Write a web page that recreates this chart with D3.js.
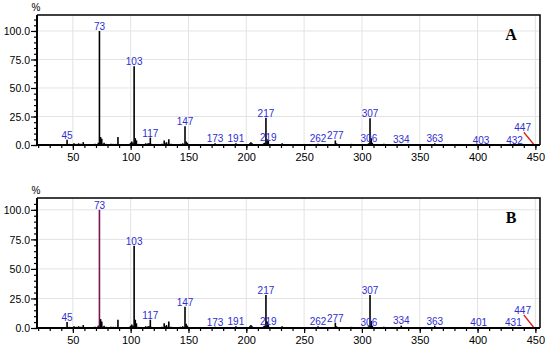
<!DOCTYPE html>
<html>
<head>
<meta charset="utf-8">
<script src="https://cdn.jsdelivr.net/npm/d3@7"></script>
<style>
  body { margin: 0; background: #fff; }
  svg { display: block; font-family: Arial, "Liberation Sans", sans-serif; }
</style>
</head>
<body>
<div id="chart"></div>
<script>
// m/z and relative intensity (%)
var massesA = [45, 47, 51, 53, 55, 57, 59, 61, 69, 72, 73, 74, 75, 76, 77, 79, 81, 83, 85, 87, 89, 91,
  99, 100, 101, 102, 103, 104, 105, 107, 113, 115, 116, 117, 118, 119, 127, 129, 130, 131, 132, 133, 135,
  143, 145, 147, 148, 149, 157, 163, 173, 175, 177, 189, 191, 199, 201, 203, 204, 205, 211, 215, 216,
  217, 218, 219, 220, 229, 231, 245, 262, 263, 275, 277, 278, 291, 305, 306, 307, 308, 309, 319, 321,
  334, 363, 403, 432, 447];
var intensA = [4.5, 1, 1.5, 1, 1.5, 1, 2.5, 0.5, 1, 2, 100, 7, 5.5, 1, 2, 1, 0.5, 1, 1, 1, 7, 0.5,
  1, 2, 3, 2, 69, 6, 4, 1, 1.5, 1.5, 1.5, 6.5, 1, 0.5, 1, 4, 1.5, 2.5, 1, 5, 1,
  1, 1.5, 16.5, 3, 2, 0.5, 0.5, 1.5, 0.5, 0.5, 0.5, 1.5, 0.5, 0.5, 1.5, 2.5, 1.5, 0.5, 1.5, 2,
  24, 5, 3.5, 1, 0.5, 1.5, 0.5, 1, 0.5, 0.5, 4, 1.5, 1, 1, 1.5, 23.5, 6, 2, 1, 0.5,
  1, 1.5, 0.5, 0.5, 0.5];

var massesB = [45, 47, 51, 53, 55, 57, 59, 61, 69, 72, 73, 74, 75, 76, 77, 79, 81, 83, 85, 87, 89, 91,
  99, 100, 101, 102, 103, 104, 105, 107, 113, 115, 116, 117, 118, 119, 127, 129, 130, 131, 132, 133, 135,
  143, 145, 147, 148, 149, 157, 163, 173, 175, 177, 189, 191, 199, 201, 203, 204, 205, 211, 215, 216,
  217, 218, 219, 220, 229, 231, 245, 262, 263, 275, 277, 278, 291, 305, 306, 307, 308, 309, 319, 321,
  334, 363, 401, 431, 447];
var intensB = [5, 1, 1.5, 1, 1.5, 1, 2.5, 0.5, 1, 2, 100, 7.5, 5.5, 1, 2, 1, 0.5, 1, 1, 1, 7, 0.5,
  1, 2, 3, 2, 69.5, 7, 4, 1, 1.5, 1.5, 1.5, 7, 1, 0.5, 1, 4, 1.5, 2.5, 1, 5.5, 1,
  1, 1.5, 18, 3.5, 2, 0.5, 0.5, 1, 0.5, 0.5, 0.5, 1.5, 0.5, 0.5, 1.5, 2.5, 1.5, 0.5, 1.5, 2,
  28, 5.5, 3, 1, 0.5, 1.5, 0.5, 1.5, 0.5, 0.5, 4.5, 1.5, 1, 1, 1.5, 28, 6, 2, 1, 0.5,
  2, 2, 0.5, 0.5, 0.5];

// peak labels: m/z text, position (m/z) and level (%)
var labelsA = ["45", "73", "103", "117", "147", "173", "191", "217", "219", "262", "277", "306", "307", "334", "363", "403", "432", "447"];
var labelXA = [45, 73, 103, 117, 147, 173, 191, 217, 219, 262, 277, 306, 307, 334, 363, 403, 432, 439];
var labelYA = [4.5, 100, 69, 6.5, 16.5, 1.5, 1.5, 24, 3, 1.5, 4.4, 1.5, 23.5, 1, 2, 0, 0, 11.7];

var labelsB = ["45", "73", "103", "117", "147", "173", "191", "217", "219", "262", "277", "306", "307", "334", "363", "401", "431", "447"];
var labelXB = [45, 73, 103, 117, 147, 173, 191, 217, 219, 262, 277, 306, 307, 334, 363, 401, 431, 439];
var labelYB = [5, 100, 69.5, 6.5, 18, 1, 1.5, 27.7, 2, 2, 4.6, 1, 27.7, 2.3, 2, 1, 1, 11.4];

// leader line from the 447 label down to its peak
var leaderA = [[440, 11.2], [449, 0]];
var leaderB = [[440, 11], [449, 0]];

var xTicks = [50, 100, 150, 200, 250, 300, 350, 400, 450];
var yTicks = [0, 25, 50, 75, 100];

var width = 550, height = 349;
var svg = d3.select('#chart').append('svg')
    .attr('width', width)
    .attr('height', height);

function drawPanel(opts) {
    var x = d3.scaleLinear().domain([19, 454]).range([37, 540]);
    var y = d3.scaleLinear().domain([0, opts.yMax]).range([opts.bottom, opts.top]);
    var g = svg.append('g');

    // grid
    g.selectAll('.vgrid').data(xTicks).enter().append('line')
        .attr('x1', function (d) { return x(d); }).attr('x2', function (d) { return x(d); })
        .attr('y1', opts.top).attr('y2', opts.bottom)
        .attr('stroke', '#e3e3e3').attr('stroke-width', 1);
    g.selectAll('.hgrid').data(yTicks.slice(1)).enter().append('line')
        .attr('x1', 37).attr('x2', 540)
        .attr('y1', function (d) { return y(d); }).attr('y2', function (d) { return y(d); })
        .attr('stroke', '#e3e3e3').attr('stroke-width', 1);

    // frame (top / right)
    g.append('path')
        .attr('d', 'M37,' + opts.top + 'H540V' + opts.bottom)
        .attr('fill', 'none').attr('stroke', '#000').attr('stroke-width', 1.5);

    // peaks
    var peaks = opts.masses.map(function (m, i) { return { mz: m, v: opts.inten[i] }; });
    g.selectAll('.peak').data(peaks).enter().append('line')
        .attr('x1', function (d) { return x(d.mz); }).attr('x2', function (d) { return x(d.mz); })
        .attr('y1', y(0)).attr('y2', function (d) { return y(d.v); })
        .attr('stroke', function (d) { return d.mz === opts.hilite ? '#7a1456' : '#000'; })
        .attr('stroke-width', 1.6);

    // leader
    g.append('line')
        .attr('x1', x(opts.leader[0][0])).attr('y1', y(opts.leader[0][1]))
        .attr('x2', x(opts.leader[1][0])).attr('y2', y(opts.leader[1][1]))
        .attr('stroke', '#e0201a').attr('stroke-width', 1.3);

    // axes
    var xAxis = d3.axisBottom(x).tickValues(xTicks).tickSize(5).tickPadding(3)
        .tickFormat(d3.format('d'));
    var xMinor = d3.axisBottom(x).tickValues(d3.range(20, 451, 10)).tickSize(3).tickFormat('');
    var yAxis = d3.axisLeft(y).tickValues(yTicks).tickSize(6).tickPadding(1)
        .tickFormat(d3.format('.1f'));
    var yMinor = d3.axisLeft(y).tickValues(d3.range(0, opts.yMax, 5)).tickSize(3).tickFormat('');

    [xMinor, xAxis].forEach(function (ax) {
        var a = g.append('g').attr('transform', 'translate(0,' + opts.bottom + ')').call(ax);
        a.select('.domain').remove();
        a.selectAll('line').attr('stroke-width', 1.2);
        a.selectAll('text').attr('font-size', 11).attr('fill', '#000');
    });
    [yMinor, yAxis].forEach(function (ax) {
        var a = g.append('g').attr('transform', 'translate(37,0)').call(ax);
        a.select('.domain').remove();
        a.selectAll('line').attr('stroke-width', 1.2);
        a.selectAll('text').attr('font-size', 10.5).attr('fill', '#000').attr('dy', '0.35em');
    });
    g.append('line').attr('x1', 36).attr('x2', 540).attr('y1', opts.bottom).attr('y2', opts.bottom)
        .attr('stroke', '#000').attr('stroke-width', 2);
    g.append('line').attr('x1', 37).attr('x2', 37).attr('y1', opts.top).attr('y2', opts.bottom + 1)
        .attr('stroke', '#000').attr('stroke-width', 2);

    // peak labels
    g.selectAll('.plabel').data(opts.labels).enter().append('text')
        .attr('x', function (d, i) { return x(opts.labelX[i]); })
        .attr('y', function (d, i) { return y(opts.labelY[i]) - 1; })
        .attr('text-anchor', 'middle')
        .attr('font-size', 10)
        .attr('fill', '#2d2dd2')
        .text(function (d) { return d; });

    // % and panel letter
    g.append('text').attr('x', 36).attr('y', opts.top - 4).attr('text-anchor', 'middle')
        .attr('font-size', 10).text('%');
    g.append('text').attr('x', 511).attr('y', opts.top + 25).attr('text-anchor', 'middle')
        .attr('font-family', '"Liberation Serif", "Times New Roman", serif')
        .attr('font-weight', 'bold').attr('font-size', 16).text(opts.letter);
}

drawPanel({ top: 15, bottom: 145, yMax: 114, masses: massesA, inten: intensA,
    labels: labelsA, labelX: labelXA, labelY: labelYA, leader: leaderA, letter: 'A', hilite: null });
drawPanel({ top: 198, bottom: 328, yMax: 110, masses: massesB, inten: intensB,
    labels: labelsB, labelX: labelXB, labelY: labelYB, leader: leaderB, letter: 'B', hilite: 73 });
</script>
</body>
</html>
